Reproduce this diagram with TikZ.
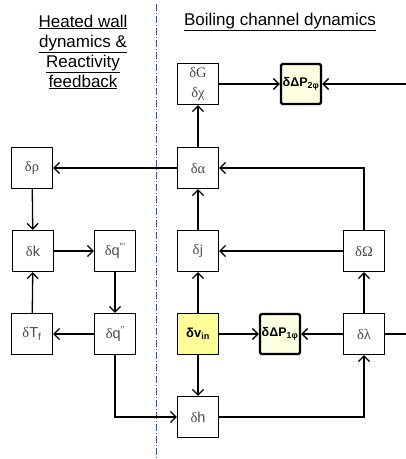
\documentclass[tikz,border=0pt]{standalone}
\usepackage{fontspec}
\setmainfont{Liberation Serif}
\setsansfont{Liberation Sans}
\usetikzlibrary{arrows.meta}
\definecolor{labelgray}{RGB}{75,75,75}
\definecolor{vinfill}{RGB}{255,255,153}
\definecolor{dpfill}{RGB}{255,255,226}
\definecolor{sepblue}{RGB}{50,80,255}
\newcommand\dl{{\rmfamily δ}}
\newcommand\prm[1]{\raisebox{0.55ex}{\fontsize{10}{10}\selectfont #1}}
\begin{document}
\begin{tikzpicture}[x=1pt,y=-1pt,
  box/.style={draw, line width=1.3pt, minimum size=41pt, inner sep=0pt, text=labelgray, font=\fontsize{14.5}{16}\selectfont\sffamily},
  dpbox/.style={box, line width=2.4pt, minimum size=40pt, rounded corners=1.5pt, fill=dpfill, text=black, font=\fontsize{12.5}{14}\selectfont\sffamily\bfseries},
  vinbox/.style={box, fill=vinfill, text=black, font=\fontsize{13}{14}\selectfont\sffamily\bfseries},
  arr/.style={line width=1.3pt, -{Straight Barb[length=5.5pt,width=11pt,line width=1.3pt]}},
  ln/.style={line width=1.3pt},
  title/.style={font=\fontsize{17}{20}\selectfont\sffamily, align=center, inner sep=0pt}
  ]
\useasboundingbox (0,0) rectangle (406,459);
% separator
\coordinate (sepT) at (156,4);
\coordinate (sepB) at (156,459);
\draw[sepblue, line width=1pt, dash pattern=on 7pt off 2pt on 1pt off 2pt] (sepT) -- (sepB);
% titles
\node[title] (t1) at (83,52) {\underline{Heated wall}\\\underline{dynamics \&}\\\underline{Reactivity}\\\underline{feedback}};
\node[title] (t2) at (280,22) {\underline{Boiling channel dynamics}};
% nodes
\node[box, font=\fontsize{14.5}{20}\selectfont\rmfamily, align=center] (G) at (198,84) {δG\\δχ};
\node[dpbox] (dp2) at (301,84) {δΔP\textsubscript{2φ}};
\node[box] (rho) at (32,168) {\dl{\rmfamily ρ}};
\node[box] (alpha) at (198,168) {\dl{\rmfamily α}};
\node[box] (k) at (33,251) {\dl k};
\node[box] (q3) at (115,251) {\dl q\prm{”’}};
\node[box] (j) at (198,251) {\dl{\rmfamily j}};
\node[box] (Om) at (364,251) {\dl{\rmfamily Ω}};
\node[box] (Tf) at (32,334) {\dl T\textsubscript{f}};
\node[box] (q2) at (115,334) {\dl q\prm{”}};
\node[vinbox] (vin) at (198,334) {δv\textsubscript{in}};
\node[dpbox] (dp1) at (280,334) {δΔP\textsubscript{1φ}};
\node[box] (lam) at (364,334) {\dl{\rmfamily λ}};
\node[box] (h) at (198,417) {\dl h};
\coordinate (r2) at (406,84);
\coordinate (r1) at (406,334);
% connectors
\draw[arr] (alpha) -- (G);
\draw[arr] (G) -- (dp2);
\draw[arr] (r2) -- (dp2);
\draw[arr] (alpha) -- (rho);
\draw[arr] (Om.north) |- (alpha.east);
\draw[arr] (j) -- (alpha);
\draw[arr] (Om) -- (j);
\draw[arr] (rho) -- (k);
\draw[arr] (k) -- (q3);
\draw[arr] (Tf) -- (k);
\draw[arr] (q3) -- (q2);
\draw[arr] (q2) -- (Tf);
\draw[arr] (q2.south) |- (h.west);
\draw[arr] (vin) -- (j);
\draw[arr] (vin) -- (dp1);
\draw[arr] (lam) -- (dp1);
\draw[arr] (lam) -- (Om);
\draw[arr] (vin) -- (h);
\draw[arr] (h.east) -| (lam.south);
\draw[ln] (lam) -- (r1);
\end{tikzpicture}
\end{document}
